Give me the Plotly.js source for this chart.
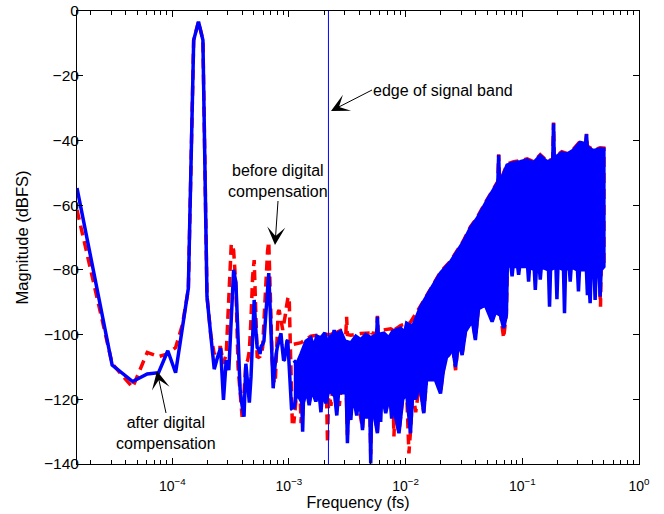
<!DOCTYPE html>
<html><head><meta charset="utf-8">
<script src="https://cdn.plot.ly/plotly-3.0.1.min.js"></script>
<style>html,body{margin:0;padding:0;background:#fff;} #chart{width:664px;height:514px;}</style>
</head><body><div id="chart"></div>
<script>
// FFT length (frequencies are in units of fs)
const NFFT = 65536;

// Low-frequency FFT bins (drawn point by point)
const lowBins = [1,2,3,4,5,6,7,8,9,10,11,12,13,14,15,16,17,18,19,20,21,22,23,24,25,26,27,28,29,30,
  31,32,33,34,35,36,37,38,39,40,41,42,43,44,45,46,47,48,49,50,51,52,53,54,55,56,57,58,59,60,
  61,62,63,64,65,66,67,68,69,70];
// before digital compensation (red dashed), dBFS
const lowBefore = [-61.5,-109,-116.3,-105.5,-106.8,-106,-104,-97,-86,-9,-3.3,-9,-88,-100,-106,-104,-104,-109,-106,-90,
  -72,-74,-85,-110,-119.2,-125.4,-118,-108.8,-108,-105,-95,-82,-77,-95,-106.8,-107,-106.8,-105.8,-104,-96,
  -88,-80,-74,-71.3,-80,-95,-108,-113,-115,-115,-106,-98,-93,-92.4,-94,-96,-98,-98.6,-97,-96,
  -94,-92,-90,-89,-88.3,-90,-100,-112,-122,-127.4];
// after digital compensation (blue solid), dBFS
const lowAfter = [-54.7,-109.4,-114.5,-112.2,-111.8,-105,-111.8,-97.5,-85.7,-9,-3.3,-9,-88.3,-100,-110.7,-107,-104.2,-120.2,-107.9,-111,
  -95,-80,-84,-100,-117,-122,-125.4,-109,-116,-121,-113,-97,-89.3,-98,-104,-104.5,-106,-103.5,-103,-102,
  -97,-91,-85,-81,-90,-100,-109,-116.6,-112,-108,-106,-104,-103,-101.5,-100.5,-99.6,-103,-106,-108,-107.8,
  -105,-103,-102,-101.7,-106,-112,-117,-120,-123,-123.3];

// Dense high-frequency region: upper / lower envelopes of the spectrum
const afterTopFreq = [1.10e-3,1.17e-3,1.27e-3,1.40e-3,1.54e-3,1.64e-3,1.73e-3,1.88e-3,2.03e-3,2.15e-3,2.29e-3,2.40e-3,2.44e-3,2.47e-3,2.78e-3,3.01e-3,
  3.39e-3,3.74e-3,4.12e-3,4.55e-3,5.02e-3,5.65e-3,5.73e-3,5.82e-3,6.52e-3,7.16e-3,7.74e-3,9.06e-3,9.81e-3,1.02e-2,1.15e-2,
  1.34e-2,1.64e-2,1.99e-2,2.43e-2,3.13e-2,3.59e-2,4.12e-2,5.02e-2,5.88e-2,6.17e-2,6.27e-2,6.36e-2,6.70e-2,7.40e-2,8.43e-2,9.62e-2,
  0.110,0.125,0.1425,0.1626,0.1823,0.1852,0.1877,0.198,0.218,0.241,0.274,0.313,0.349,0.355,0.360,0.407,0.464,0.5];
const afterTopDb = [-108,-109,-106,-102,-101,-104,-100.5,-101,-99.5,-103,-100.5,-100,-98.6,-100,-99,-102,
  -102.6,-100.5,-101.6,-100,-101,-100,-94.5,-100,-99.6,-101,-99,-98,-99.5,-96.5,-97.5,
  -91.5,-86,-81,-77.5,-71.3,-67,-64,-58.4,-54.3,-53,-44.5,-52.5,-51.6,-47.6,-46.9,-46.6,
  -46,-46.9,-44.7,-46.6,-46,-34.7,-45.5,-45,-43.8,-44.3,-43,-40.6,-41,-38.1,-42,-43.2,-42.6,-42.7];
const afterBottomFreq = [1.10e-3,1.17e-3,1.29e-3,1.31e-3,1.33e-3,1.42e-3,1.49e-3,1.57e-3,1.70e-3,1.80e-3,1.88e-3,1.95e-3,2.07e-3,2.20e-3,2.47e-3,2.57e-3,2.66e-3,2.78e-3,
  3.10e-3,3.17e-3,3.26e-3,3.39e-3,3.52e-3,3.81e-3,4.00e-3,4.27e-3,4.46e-3,4.64e-3,4.80e-3,4.92e-3,5.02e-3,5.12e-3,5.73e-3,6.00e-3,6.11e-3,6.25e-3,6.75e-3,7.30e-3,7.59e-3,7.85e-3,8.21e-3,8.77e-3,9.43e-3,
  1.02e-2,1.10e-2,1.15e-2,1.22e-2,1.32e-2,1.43e-2,1.51e-2,1.64e-2,1.80e-2,1.99e-2,2.10e-2,2.24e-2,2.35e-2,2.52e-2,2.68e-2,2.84e-2,3.05e-2,3.26e-2,
  3.59e-2,3.74e-2,3.96e-2,4.21e-2,4.52e-2,4.83e-2,5.51e-2,5.88e-2,6.49e-2,6.92e-2,7.30e-2,7.45e-2,8.00e-2,8.17e-2,8.33e-2,9.12e-2,9.30e-2,9.49e-2,
  0.111,0.1132,0.1155,0.1267,0.1292,0.1318,0.1397,0.1425,0.1454,0.1677,0.1711,0.1745,0.1941,0.198,0.202,0.2254,0.2299,0.2345,
  0.2523,0.2573,0.2624,0.2969,0.3028,0.3089,0.3543,0.3614,0.37,0.3813,0.389,0.4124,0.4206,0.429,0.455,0.4642,0.4735,0.5];
const afterBottomDb = [-123,-118,-121,-130,-121,-117,-121.8,-117,-120.7,-117,-124,-117,-121.3,-117,-119,-125,-118,-118,
  -118,-133.6,-120,-126.4,-118,-125,-118,-129.5,-118,-126,-118,-120,-139.8,-120,-130.5,-118,-127,-118,-124.3,-118,-126,-118,-125.4,-130.5,-120,
  -118,-130.5,-118,-120,-115,-124.3,-114,-114,-114,-118.2,-111.5,-107,-106.3,-104,-110,-102,-106.3,-99,
  -96.5,-96,-101.7,-92,-91.4,-91,-96,-93,-94,-98,-94,-78,-79,-82,-79,-79,-81.5,-79,
  -79,-83.6,-79,-80,-86.2,-80,-79,-83,-79,-80,-91.4,-80,-79,-89.1,-79,-80,-93.4,-80,
  -79,-83.6,-79,-80,-86.7,-80,-80,-87.8,-82,-90.3,-80,-80,-89.3,-80,-80,-88.3,-80,-79];
const beforeTopFreq = [1.10e-3,1.27e-3,1.40e-3,1.54e-3,1.88e-3,2.29e-3,2.40e-3,2.44e-3,2.47e-3,2.78e-3,3.07e-3,3.12e-3,3.17e-3,3.39e-3,4.12e-3,4.92e-3,5.02e-3,5.12e-3,
  5.65e-3,5.73e-3,5.82e-3,6.11e-3,7.44e-3,7.80e-3,7.94e-3,8.10e-3,9.06e-3,1.10e-2,1.34e-2,1.64e-2,1.99e-2,2.43e-2,3.13e-2,3.59e-2,4.12e-2,5.02e-2,
  5.88e-2,6.17e-2,6.27e-2,6.36e-2,6.70e-2,7.40e-2,8.43e-2,9.62e-2,0.110,0.125,0.1425,0.1626,0.1823,0.1852,0.1877,
  0.198,0.218,0.241,0.274,0.313,0.349,0.355,0.360,0.407,0.464,0.5];
const beforeTopDb = [-103,-102.5,-101.5,-100.5,-100,-100,-99.6,-98.3,-99.6,-98.7,-100,-94.5,-100,-100.2,-99.7,-99.5,-98.6,-99.5,
  -99.7,-94.2,-99.7,-98.7,-98.2,-98.6,-97.5,-98.4,-97.2,-96.2,-91.2,-85.7,-80.7,-77.2,-71,-66.7,-63.7,-58.1,
  -54,-52.7,-44.3,-52.2,-51.3,-47.3,-46.6,-46.3,-45.7,-46.6,-44.4,-46.3,-45.7,-34.5,-45.2,
  -44.7,-43.5,-44,-42.7,-40.3,-40.7,-38,-41.7,-42.9,-42.3,-42.4];
const beforeBottomFreq = [1.10e-3,1.17e-3,1.25e-3,1.27e-3,1.29e-3,1.31e-3,1.33e-3,1.42e-3,1.49e-3,1.57e-3,1.70e-3,1.80e-3,2.07e-3,2.10e-3,2.14e-3,2.20e-3,2.29e-3,2.36e-3,2.47e-3,2.70e-3,
  2.78e-3,3.10e-3,3.17e-3,3.26e-3,3.39e-3,3.52e-3,3.81e-3,4.27e-3,4.46e-3,4.92e-3,5.02e-3,5.12e-3,5.73e-3,6.00e-3,6.75e-3,7.30e-3,7.80e-3,7.94e-3,8.10e-3,8.21e-3,
  8.77e-3,9.43e-3,1.02e-2,1.067e-2,1.10e-2,1.15e-2,1.22e-2,1.32e-2,1.43e-2,1.51e-2,1.64e-2,1.80e-2,1.99e-2,2.10e-2,2.24e-2,2.35e-2,2.52e-2,2.68e-2,2.84e-2,3.05e-2,
  3.26e-2,3.59e-2,3.74e-2,3.96e-2,4.21e-2,4.52e-2,4.83e-2,5.51e-2,5.88e-2,6.49e-2,6.92e-2,7.30e-2,7.45e-2,0.455,0.4642,0.468,0.4735,0.5];
const beforeBottomDb = [-127.4,-117.5,-120,-127.4,-120.5,-125,-120.5,-116.5,-121,-116.5,-120,-116.5,-120.5,-119,-133.6,-116.5,-122,-117.5,-118.5,-122,
  -117.5,-117.5,-131,-119.5,-125.5,-117.5,-118.5,-129,-117.5,-119.5,-137,-119.5,-130,-117.5,-124,-117.5,-120,-131.5,-122,-125,
  -130,-119.5,-117.5,-136.7,-130,-117.5,-124,-114.5,-124,-113.5,-113.5,-113.5,-117.7,-111,-106.5,-105.8,-103.5,-111,-101.5,-105.8,
  -98.5,-96.5,-95.5,-101.2,-91.5,-91,-90.5,-95.5,-92.5,-93.5,-101.1,-93.5,-77.5,-77.5,-88,-91.4,-78,-78];

// Edge of signal band (fs)
const bandEdge = 0.00218;

// Axis ticks
const xTickVals = [1e-4, 1e-3, 1e-2, 1e-1, 1];
const xTickText = ['10<sup>\u22124</sup>','10<sup>\u22123</sup>','10<sup>\u22122</sup>','10<sup>\u22121</sup>','10<sup>0</sup>'];
const yTickVals = [-140,-120,-100,-80,-60,-40,-20,0];

const RED = '#ff0000', BLUE = '#0000ff';
const FONT = 'Liberation Sans, Arial, Helvetica, sans-serif';

const lowFreq = lowBins.map(k => k / NFFT);
function band(topF, topY, botF, botY) {
  return { x: topF.concat(botF.slice().reverse()), y: topY.concat(botY.slice().reverse()) };
}
const bBefore = band(beforeTopFreq, beforeTopDb, beforeBottomFreq, beforeBottomDb);
const bAfter = band(afterTopFreq, afterTopDb, afterBottomFreq, afterBottomDb);

const traces = [
  { x: lowFreq, y: lowBefore, mode: 'lines', line: { color: RED, width: 3.5, dash: '10px,6px' }, hoverinfo: 'skip' },
  { x: bBefore.x, y: bBefore.y, mode: 'lines', line: { color: RED, width: 3.5, dash: '10px,6px' }, hoverinfo: 'skip' },
  { x: lowFreq, y: lowAfter, mode: 'lines', line: { color: BLUE, width: 3.5 }, hoverinfo: 'skip' },
  { x: bAfter.x, y: bAfter.y, mode: 'lines', fill: 'toself', fillcolor: BLUE, line: { color: BLUE, width: 3.5 }, hoverinfo: 'skip' },
  { x: [bandEdge, bandEdge], y: [-140, 0], mode: 'lines', line: { color: BLUE, width: 1 }, hoverinfo: 'skip' }
];

const L = 77, R = 639, T = 11, B = 464;
const px = v => (v - L) / (R - L);
const py = v => (B - v) / (B - T);
const tfont = { family: FONT, size: 16, color: '#000' };
const arrowText = (hx, hy, ax, ay, text, xa, ya) => ({ xref: 'paper', yref: 'paper', x: px(hx), y: py(hy), ax: ax, ay: ay,
  text: text, xanchor: xa, yanchor: ya, align: 'center', font: tfont,
  showarrow: true, arrowhead: 3, arrowsize: 3, arrowwidth: 1, arrowcolor: '#000', standoff: 0, borderpad: 0 });

const layout = {
  width: 664, height: 514,
  margin: { l: L, r: 664 - R, t: T, b: 514 - B, pad: 0 },
  paper_bgcolor: '#fff', plot_bgcolor: '#fff',
  showlegend: false,
  font: tfont,
  xaxis: {
    type: 'log', range: [Math.log10(1 / NFFT), 0], autorange: false,
    tickmode: 'array', tickvals: xTickVals, ticktext: xTickText,
    ticks: 'inside', ticklen: 6, tickwidth: 1, tickcolor: '#000',
    minor: { ticks: 'inside', ticklen: 4, tickwidth: 1, tickcolor: '#000', dtick: 'D1', showgrid: false },
    showline: true, linecolor: '#000', linewidth: 1, mirror: 'ticks',
    showgrid: false, zeroline: false, automargin: false,
    tickfont: { family: FONT, size: 14, color: '#000' }, ticklabelstandoff: 9,
    title: { text: 'Frequency (fs)', font: tfont, standoff: 3 }
  },
  yaxis: {
    range: [-140, 0], autorange: false,
    tickmode: 'array', tickvals: yTickVals,
    ticks: 'inside', ticklen: 6, tickwidth: 1, tickcolor: '#000',
    showline: true, linecolor: '#000', linewidth: 1, mirror: 'ticks',
    showgrid: false, zeroline: false, automargin: false,
    tickfont: { family: FONT, size: 15.5, color: '#000' }, ticklabelstandoff: -6,
    title: { text: 'Magnitude (dBFS)', font: { family: FONT, size: 16.5, color: '#000' }, standoff: 11 }
  },
  annotations: [
    arrowText(331, 111, 41, -21, 'edge of signal band', 'left', 'middle'),
    arrowText(275, 245, 3, -44, 'before digital<br>compensation', 'center', 'bottom'),
    arrowText(157, 371, 9, 42, 'after digital<br>compensation', 'center', 'top')
  ]
};

Plotly.newPlot('chart', traces, layout, { displayModeBar: false, staticPlot: true });
</script>
</body></html>
